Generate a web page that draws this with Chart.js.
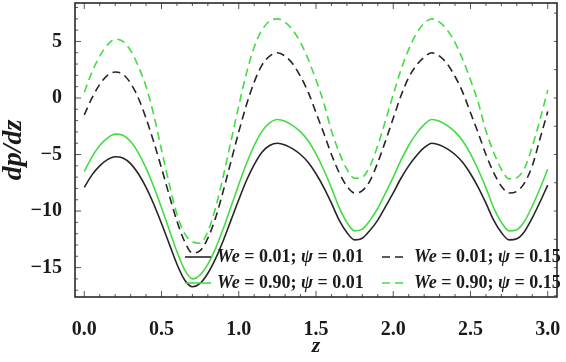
<!DOCTYPE html>
<html>
<head>
<meta charset="utf-8">
<script src="https://cdn.jsdelivr.net/npm/chart.js@4.4.1/dist/chart.umd.min.js"></script>
<style>
  html, body { margin: 0; padding: 0; background: #fff; }
  #wrap { width: 566px; height: 362px; }
</style>
</head>
<body>
<div id="wrap"><canvas id="c" width="566" height="362"></canvas></div>
<script>
// z positions of the read-off samples
const zValues = [
  0.00, 0.05, 0.10, 0.15, 0.20, 0.25, 0.30, 0.35, 0.40, 0.45,
  0.50, 0.55, 0.60, 0.65, 0.70, 0.75, 0.80, 0.85, 0.90, 0.95,
  1.00, 1.05, 1.10, 1.15, 1.20, 1.25, 1.30, 1.35, 1.40, 1.45,
  1.50, 1.55, 1.60, 1.65, 1.70, 1.75, 1.80, 1.85, 1.90, 1.95,
  2.00, 2.05, 2.10, 2.15, 2.20, 2.25, 2.30, 2.35, 2.40, 2.45,
  2.50, 2.55, 2.60, 2.65, 2.70, 2.75, 2.80, 2.85, 2.90, 2.95,
  3.00
]

// We = 0.01; psi = 0.01 (black, solid)
const dpBlackSolid = [
  -7.9, -6.8, -6.0, -5.45, -5.2, -5.3, -5.8, -6.7, -7.9, -9.4,
  -11.1, -12.9, -14.7, -16.1, -16.7, -16.4, -15.5, -14.2, -12.6, -10.8,
  -9.0, -7.3, -5.9, -4.8, -4.2, -4.0, -4.15, -4.5, -5.0, -5.7,
  -6.7, -7.9, -9.3, -10.8, -11.9, -12.55, -12.4, -11.7, -10.8, -9.6,
  -8.4, -7.1, -6.0, -5.1, -4.4, -4.0, -4.15, -4.5, -5.0, -5.7,
  -6.7, -7.9, -9.3, -10.8, -11.9, -12.55, -12.45, -11.8, -10.6, -9.2,
  -7.7
]

// We = 0.90; psi = 0.01 (green, solid)
const dpGreenSolid = [
  -6.5, -5.2, -4.2, -3.55, -3.2, -3.3, -3.85, -4.85, -6.2, -7.85,
  -9.7, -11.65, -13.6, -15.2, -16.0, -15.65, -14.7, -13.3, -11.55, -9.6,
  -7.65, -5.8, -4.2, -2.95, -2.2, -1.9, -2.05, -2.45, -3.0, -3.8,
  -4.95, -6.35, -7.95, -9.7, -11.0, -11.75, -11.6, -10.8, -9.75, -8.4,
  -7.0, -5.5, -4.2, -3.15, -2.35, -1.9, -2.05, -2.45, -3.0, -3.8,
  -4.95, -6.35, -7.95, -9.7, -11.0, -11.75, -11.65, -10.9, -9.55, -8.0,
  -6.3
]

// We = 0.01; psi = 0.15 (black, dashed)
const dpBlackDashed = [
  -1.5, 0.0, 1.2, 2.0, 2.3, 2.1, 1.3, 0.0, -1.8, -3.9,
  -6.2, -8.6, -10.9, -12.7, -13.7, -13.5, -12.4, -10.6, -8.2, -5.6,
  -3.0, -0.6, 1.4, 2.9, 3.7, 4.0, 3.7, 3.0, 1.9, 0.5,
  -1.3, -3.1, -5.0, -6.6, -7.8, -8.4, -8.2, -7.3, -5.7, -3.8,
  -1.8, 0.2, 1.8, 2.9, 3.6, 4.0, 3.7, 3.0, 1.9, 0.5,
  -1.3, -3.1, -5.0, -6.6, -7.8, -8.4, -8.25, -7.5, -6.0, -3.6,
  -1.2
]

// We = 0.90; psi = 0.15 (green, dashed)
const dpGreenDashed = [
  0.5, 2.3, 3.7, 4.7, 5.2, 5.0, 4.2, 2.8, 1.0, -1.5,
  -4.6, -7.6, -10.3, -12.0, -12.7, -12.85, -11.8, -9.7, -6.9, -3.8,
  -0.7, 2.2, 4.5, 6.0, 6.8, 7.0, 6.7, 6.0, 4.9, 3.4,
  1.6, -0.4, -2.9, -4.8, -6.3, -7.1, -7.0, -6.0, -4.2, -2.0,
  0.3, 2.5, 4.3, 5.7, 6.6, 7.0, 6.7, 6.0, 4.9, 3.4,
  1.6, -0.4, -2.9, -4.8, -6.3, -7.15, -7.05, -6.2, -4.3, -1.9,
  0.7
]

const weValues = ['0.01', '0.90', '0.01', '0.90']
const psiValues = ['0.01', '0.01', '0.15', '0.15']
const xTickValues = [0, 0.5, 1, 1.5, 2, 2.5, 3]
const yTickValues = [-15, -10, -5, 0, 5]

const serif = '"Liberation Serif", "DejaVu Serif", serif'
const black = '#262626'
const green = '#43dc43'

function points(ys) {
  return zValues.map((z, i) => ({x: z, y: ys[i]}))
}

function makeSet(ys, idx, colour, dashed) {
  return {
    label: `We = ${weValues[idx]}; ψ = ${psiValues[idx]}`,
    data: points(ys),
    borderColor: colour,
    borderWidth: 1.6,
    borderDash: dashed ? [8, 5] : [],
    pointRadius: 0,
    fill: false,
    cubicInterpolationMode: 'monotone',
  }
}

// chart.js wants room for half a tick label at the ends; the original has none
function noEdgePadding(s) {
  s.paddingTop = 0
  s.paddingBottom = 0
  s.paddingLeft = 0
  s.paddingRight = 0
}

// frame with inward ticks on all four sides, like the original plot
const framePlugin = {
  id: 'frame',
  afterDatasetsDraw(chart) {
    const {ctx, chartArea: a, scales} = chart
    const xs = scales.x, ys = scales.y
    ctx.save()
    ctx.strokeStyle = '#555'
    ctx.lineWidth = 1
    ctx.beginPath()
    for (let i = 0; i <= 30; ++i) {
      let v = i / 10
      let px = xs.getPixelForValue(v)
      let len = (i % 5 === 0) ? 6 : 3
      ctx.moveTo(px, a.bottom); ctx.lineTo(px, a.bottom - len)
      ctx.moveTo(px, a.top); ctx.lineTo(px, a.top + len)
    }
    for (let v = -17; v <= 8; ++v) {
      let py = ys.getPixelForValue(v)
      let len = (v % 5 === 0) ? 6 : 3
      ctx.moveTo(a.left, py); ctx.lineTo(a.left + len, py)
    }
    for (let v = -17.5; v <= 8; v += 2.5) {
      let py = ys.getPixelForValue(v)
      ctx.moveTo(a.right, py); ctx.lineTo(a.right - 3, py)
    }
    ctx.stroke()
    ctx.strokeStyle = '#2a2a2a'
    ctx.lineWidth = 1.6
    ctx.strokeRect(a.left, a.top, a.right - a.left, a.bottom - a.top)
    ctx.restore()
  },
  afterDraw(chart) {
    const {ctx, chartArea: a} = chart
    const order = [0, 2, 1, 3]
    ctx.save()
    ctx.textBaseline = 'middle'
    order.forEach((di, k) => {
      const ds = chart.data.datasets[di]
      const col = k % 2, row = Math.floor(k / 2)
      const x0 = a.right - (col === 0 ? 372 : 175)
      const y = a.bottom - 40 + row * 26
      ctx.strokeStyle = ds.borderColor
      ctx.lineWidth = ds.borderWidth
      ctx.setLineDash(ds.borderDash)
      ctx.beginPath()
      ctx.moveTo(x0, y); ctx.lineTo(x0 + 26, y)
      ctx.stroke()
      ctx.setLineDash([])
      const parts = [
        ['We', 'italic bold'],
        [` = ${weValues[di]}; `, 'bold'],
        ['ψ', 'italic bold'],
        [` = ${psiValues[di]}`, 'bold'],
      ]
      let x = x0 + 32
      ctx.fillStyle = '#1a1a1a'
      for (const [t, style] of parts) {
        ctx.font = `${style} 18px ${serif}`
        ctx.fillText(t, x, y)
        x += ctx.measureText(t).width
      }
    })
    ctx.restore()
  },
}

const ctx = document.getElementById('c').getContext('2d')
new Chart(ctx, {
  type: 'line',
  data: {
    datasets: [
      makeSet(dpBlackSolid, 0, black, false),
      makeSet(dpGreenSolid, 1, green, false),
      makeSet(dpBlackDashed, 2, black, true),
      makeSet(dpGreenDashed, 3, green, true),
    ],
  },
  options: {
    responsive: false,
    animation: false,
    layout: {padding: {top: 3, right: 9, left: 0, bottom: 0}},
    plugins: {legend: {display: false}, tooltip: {enabled: false}},
    scales: {
      x: {
        type: 'linear',
        min: -0.06,
        max: 3.06,
        grid: {display: false},
        border: {display: false},
        afterBuildTicks: s => { s.ticks = xTickValues.map(v => ({value: v})) },
        afterFit: s => { s.height = 65; noEdgePadding(s) },
        ticks: {
          autoSkip: false,
          maxRotation: 0,
          padding: 13,
          color: '#1a1a1a',
          font: {family: serif, size: 20, weight: 'bold'},
          callback: v => v.toFixed(1),
        },
        title: {
          display: true,
          text: 'z',
          color: '#1a1a1a',
          font: {family: serif, size: 22, weight: 'bold', style: 'italic'},
          padding: {top: 0, bottom: 2},
        },
      },
      y: {
        min: -17.6,
        max: 8.4,
        grid: {display: false},
        border: {display: false},
        afterBuildTicks: s => { s.ticks = yTickValues.map(v => ({value: v})) },
        afterFit: s => { s.width = 75; noEdgePadding(s) },
        ticks: {
          autoSkip: false,
          padding: 5,
          color: '#1a1a1a',
          font: {family: serif, size: 20, weight: 'bold'},
          callback: v => v < 0 ? '\u2212' + Math.abs(v) : String(v),
        },
        title: {
          display: true,
          text: 'dp/dz',
          color: '#1a1a1a',
          font: {family: serif, size: 28, weight: 'bold', style: 'italic', lineHeight: 1},
          padding: {top: 0, bottom: 0},
        },
      },
    },
  },
  plugins: [framePlugin],
})
</script>
</body>
</html>
